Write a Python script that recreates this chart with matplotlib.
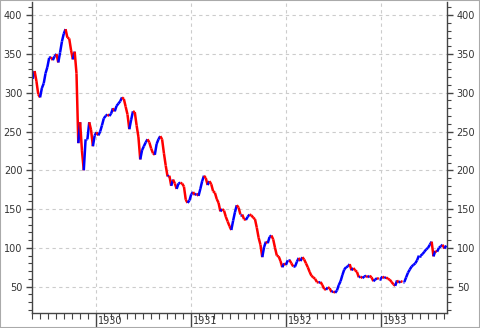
import numpy as np
import pandas as pd
import matplotlib
matplotlib.use("Agg")
import matplotlib.pyplot as plt
import matplotlib.dates as mdates
import matplotlib.transforms as mtransforms
from matplotlib.collections import LineCollection
from matplotlib.patches import Rectangle

# -----------------------------------------
# Weekly closes (Saturdays)
# -----------------------------------------

closes_1929 = [
    318, 328, 315, 298,
    294, 306, 312, 325, 333,
    345, 346, 342, 347,
    350, 339, 352, 366, 376,
    382, 371, 370, 355,
    343, 353, 325, 235,
    262, 225, 200, 240, 240,
    262, 252, 231, 245,
]
closes_1930 = [
    249, 245, 250, 258,
    267, 270, 272, 270,
    273, 280, 276, 283, 286,
    289, 294, 292, 282,
    272, 253, 265, 276, 275,
    258, 243, 214, 226,
    231, 236, 240, 236,
    228, 222, 220, 234, 240,
    244, 240, 222, 206,
    192, 193, 180, 188,
    183, 176, 183, 184, 183,
    179, 162, 158, 161,
]
closes_1931 = [
    169, 172, 168, 170, 167,
    176, 186, 193, 190,
    181, 186, 182, 173,
    171, 163, 158, 147,
    150, 148, 140, 134, 128,
    123, 135, 146, 155,
    152, 143, 143, 137,
    136, 140, 143, 142, 139,
    137, 126, 113, 104,
    88, 101, 108, 106, 114,
    116, 111, 100, 90,
    89, 83, 75, 80,
]
closes_1932 = [
    78, 84, 84, 80, 76,
    76, 82, 87, 83,
    88, 85, 80, 75,
    69, 64, 62, 60, 56,
    55, 56, 52, 47,
    46, 49, 48, 43,
    44, 42, 45, 52, 57,
    65, 72, 75, 76,
    79, 71, 74, 71,
    69, 62, 63, 61, 63,
    64, 62, 64, 62,
    57, 59, 61, 60, 60,
]
closes_1933 = [
    63, 61, 62, 60,
    59, 56, 53, 51,
    58, 55, 57, 56,
    56, 62, 68, 72, 76,
    78, 80, 84, 90,
    90, 92, 95, 98,
    100, 104, 108, 89, 96,
    95, 100, 102, 104,
    99, 103,
]

start_date = "1929-05-04"
y_ticks = [50, 100, 150, 200, 250, 300, 350, 400]

closes = np.array(closes_1929 + closes_1930 + closes_1931 + closes_1932 + closes_1933, dtype=float)
dates = pd.date_range(start_date, periods=len(closes), freq="W-SAT")
x = mdates.date2num(dates.to_pydatetime())

# -----------------------------------------
# Plot
# -----------------------------------------

fig = plt.figure(figsize=(4.8, 3.28), dpi=100)
ax = fig.add_axes([32 / 480, 15 / 328, 415 / 480, 311 / 328])

segs = np.stack([np.column_stack([x[:-1], closes[:-1]]),
                 np.column_stack([x[1:], closes[1:]])], axis=1)
cols = np.where(closes[1:] >= closes[:-1], "#0000ff", "#ff0000")
ax.add_collection(LineCollection(segs, colors=cols, linewidths=1.8, capstyle="butt"))

ax.set_xlim(mdates.date2num(pd.Timestamp("1929-05-01")),
            mdates.date2num(pd.Timestamp("1933-09-12")))
ax.set_ylim(16, 417)

ax.set_yticks(y_ticks)
ax.yaxis.set_minor_locator(plt.MultipleLocator(10))
ax.xaxis.set_major_locator(mdates.YearLocator())
ax.xaxis.set_major_formatter(mdates.DateFormatter("%Y"))
ax.xaxis.set_minor_locator(mdates.MonthLocator())

ax.tick_params(axis="y", which="both", left=True, right=True,
               labelleft=True, labelright=True, labelsize=7,
               colors="#444444", labelcolor="#333333")
ax.tick_params(axis="y", which="major", length=4, width=1, pad=3)
ax.tick_params(axis="y", which="minor", length=3, width=0.8)
ax.tick_params(axis="x", which="major", length=12, width=1,
               labelsize=7, colors="#444444", labelcolor="#333333", pad=-9.5)
ax.tick_params(axis="x", which="minor", length=4, width=0.8, colors="#444444")

offset = mtransforms.ScaledTranslation(1.5 / 72, 0, fig.dpi_scale_trans)
for lbl in ax.get_xticklabels():
    lbl.set_horizontalalignment("left")
    lbl.set_transform(lbl.get_transform() + offset)

ax.grid(True, which="major", color="#cccccc", linestyle=(0, (3, 3)), linewidth=0.8)
ax.set_axisbelow(True)

for side in ["left", "right", "bottom"]:
    ax.spines[side].set_color("#444444")
    ax.spines[side].set_linewidth(1)
ax.spines["top"].set_visible(False)

fig.patches.append(Rectangle((0, 0), 1, 1, transform=fig.transFigure,
                             fill=False, edgecolor="#aaaaaa", linewidth=1.5))

fig.savefig("out.png", dpi=100)
